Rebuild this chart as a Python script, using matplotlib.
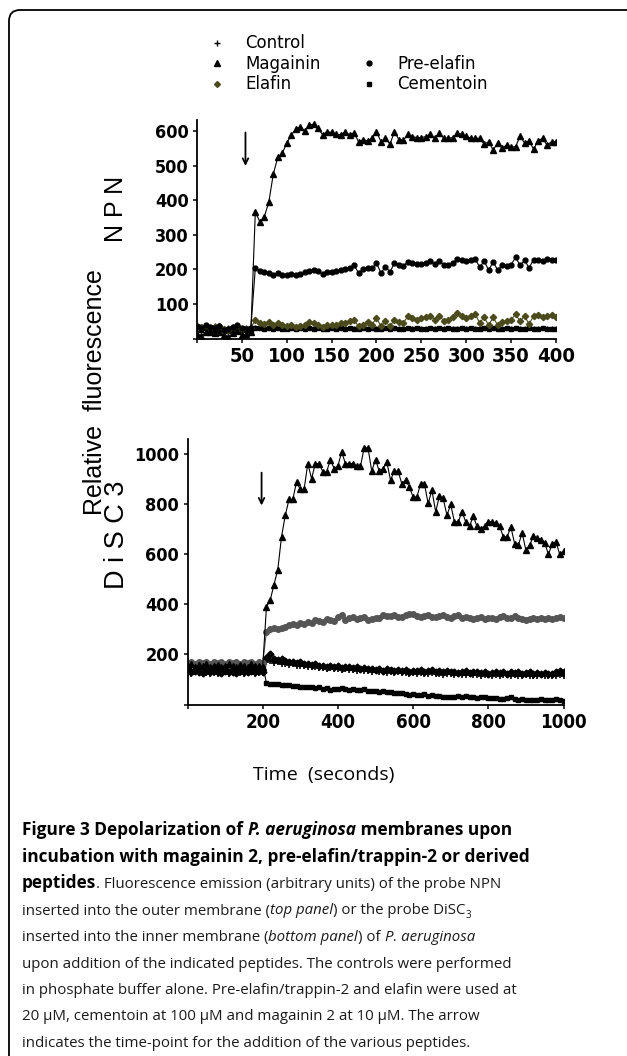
import numpy as np
import matplotlib
matplotlib.use('Agg')
import matplotlib.pyplot as plt
from matplotlib import font_manager
from matplotlib.font_manager import FontProperties
from matplotlib.lines import Line2D
from matplotlib.patches import FancyBboxPatch
from matplotlib.transforms import IdentityTransform

W, H = 627, 1056

names = set(f.name for f in font_manager.fontManager.ttflist)
capfont = 'Open Sans' if 'Open Sans' in names else 'DejaVu Sans'
labfont = 'Liberation Sans' if 'Liberation Sans' in names else 'DejaVu Sans'

def tick_font(size):
    if 'Liberation Sans Narrow' in names:
        return FontProperties(family='Liberation Sans Narrow', weight='bold', size=size * 1.15)
    cond = [f for f in font_manager.fontManager.ttflist
            if f.name == 'DejaVu Sans' and 'condensed' in str(f.stretch)]
    if cond:
        return FontProperties(family='DejaVu Sans', stretch='condensed', weight='bold', size=size)
    return FontProperties(family=labfont, weight='bold', size=size)

# ---- top panel (NPN), one reading every 5 s
t_top = np.arange(0, 401, 5)
npn_magainin = [12, 8, 18, 20, 15, 18, 10, 3, 16, 22, 10, 12, 20,
                367, 338, 353, 395, 476, 525, 537, 566, 590, 606,
                614, 601, 618, 621, 609, 590, 599, 597, 592, 590,
                599, 590, 596, 570, 576, 573, 580, 599, 570, 580,
                563, 599, 576, 575, 591, 585, 582, 582, 585, 591,
                580, 596, 580, 580, 582, 594, 592, 586, 580, 580,
                580, 563, 570, 546, 566, 551, 561, 554, 556, 586,
                566, 573, 548, 573, 580, 561, 570, 570]
npn_preelafin = [35, 30, 38, 32, 30, 36, 25, 28, 33, 38, 30, 28, 30,
                 205, 195, 192, 190, 185, 190, 185, 183, 188, 183,
                 188, 192, 196, 198, 195, 186, 192, 192, 195, 198,
                 200, 203, 212, 190, 200, 205, 203, 218, 190, 208,
                 193, 218, 212, 210, 222, 218, 216, 216, 220, 225,
                 215, 225, 213, 214, 218, 230, 226, 224, 226, 230,
                 207, 224, 198, 222, 198, 212, 210, 214, 235, 212,
                 226, 205, 228, 228, 224, 229, 228, 226]
npn_elafin = [30, 32, 35, 30, 33, 35, 28, 25, 30, 35, 28, 28, 30,
              55, 45, 42, 48, 40, 45, 38, 35, 38, 33,
              36, 40, 47, 45, 40, 33, 40, 38, 40, 44,
              46, 50, 53, 35, 40, 48, 40, 60, 35, 50,
              35, 55, 48, 45, 65, 60, 55, 58, 62, 65,
              55, 65, 52, 55, 62, 73, 65, 60, 65, 70,
              45, 62, 38, 62, 38, 48, 50, 55, 70, 50,
              65, 42, 65, 68, 62, 65, 68, 62]
npn_control = [38, 35, 40, 36, 38, 34, 30, 32, 35, 40, 30, 32, 35,
               34, 32, 31, 30, 32, 30, 31, 30, 29, 31,
               30, 31, 30, 29, 30, 31, 30, 30, 29, 30,
               31, 30, 30, 29, 30, 31, 30, 29, 30, 30,
               31, 30, 29, 30, 30, 31, 30, 29, 30, 30,
               30, 31, 30, 29, 30, 30, 31, 30, 30, 29,
               30, 31, 30, 29, 30, 30, 31, 30, 29, 30,
               30, 31, 30, 30, 29, 30, 30, 30]
npn_cementoin = [28, 25, 30, 28, 25, 28, 25, 22, 26, 30, 25, 24, 26,
                 30, 29, 28, 29, 28, 29, 28, 28, 29, 28,
                 29, 28, 29, 28, 29, 28, 28, 29, 28, 29,
                 28, 29, 28, 28, 29, 28, 29, 28, 28, 29,
                 28, 29, 28, 28, 29, 28, 29, 28, 28, 29,
                 28, 29, 28, 29, 28, 28, 29, 28, 29, 28,
                 28, 29, 28, 29, 28, 28, 29, 28, 29, 28,
                 28, 29, 28, 28, 29, 28, 28, 28]

# ---- bottom panel (DiSC3), one reading every 10 s
t_bot = np.arange(0, 1001, 10)
disc_magainin = [155, 160, 150, 158, 152, 160, 150, 155, 158, 150, 155,
                 160, 152, 150, 158, 155, 150, 160, 152, 155, 150,
                 389, 416, 478, 536, 668, 754, 817, 817, 887, 857,
                 857, 960, 900, 960, 960, 927, 927, 976, 940, 950,
                 1007, 960, 960, 960, 950, 950, 1023, 1023, 930, 976,
                 930, 940, 967, 894, 930, 930, 880, 894, 867, 827,
                 827, 880, 880, 801, 854, 768, 830, 821, 754, 797,
                 728, 728, 768, 728, 710, 750, 710, 701, 710, 728,
                 728, 724, 710, 668, 668, 708, 641, 635, 684, 615,
                 635, 671, 664, 657, 644, 598, 641, 648, 598, 612]
disc_preelafin = [165, 170, 162, 168, 165, 170, 163, 168, 165, 170, 162,
                  168, 165, 170, 163, 168, 165, 170, 162, 168, 165,
                  290, 300, 305, 302, 305, 310, 318, 322, 318, 325,
                  322, 330, 325, 335, 332, 330, 342, 335, 332, 350,
                  355, 335, 345, 348, 342, 345, 348, 338, 340, 345,
                  345, 358, 352, 352, 355, 348, 350, 355, 362, 362,
                  352, 348, 352, 355, 350, 348, 352, 355, 350, 345,
                  352, 355, 345, 350, 345, 342, 345, 348, 342, 345,
                  345, 342, 348, 352, 345, 345, 352, 345, 340, 338,
                  342, 345, 342, 345, 342, 345, 342, 345, 348, 343]
disc_elafin = [132, 128, 135, 130, 126, 132, 128, 134, 130, 127, 133,
               129, 131, 127, 134, 130, 128, 132, 129, 133, 130,
               185, 200, 180, 178, 182, 172, 168, 170, 165, 168,
               160, 162, 158, 160, 152, 155, 150, 155, 148, 152,
               145, 150, 148, 145, 150, 142, 145, 140, 142, 138,
               140, 135, 140, 138, 135, 138, 132, 136, 130, 134,
               132, 136, 130, 133, 138, 130, 134, 130, 132, 128,
               130, 125, 128, 132, 126, 130, 128, 125, 128, 122,
               125, 130, 125, 128, 122, 128, 125, 130, 122, 125,
               128, 122, 125, 120, 125, 122, 120, 128, 135, 130]
disc_control = [125, 122, 128, 124, 120, 126, 123, 127, 122, 125, 128,
                121, 126, 124, 127, 122, 125, 128, 123, 126, 124,
                170, 175, 165, 168, 160, 162, 158, 160, 155, 152,
                155, 150, 148, 150, 145, 146, 142, 145, 140, 142,
                138, 140, 136, 138, 135, 138, 132, 134, 130, 132,
                128, 130, 126, 128, 125, 128, 124, 126, 122, 125,
                122, 124, 120, 122, 125, 120, 122, 118, 120, 122,
                118, 120, 116, 118, 120, 116, 118, 115, 118, 116,
                115, 118, 114, 116, 118, 114, 116, 113, 115, 117,
                113, 115, 112, 116, 114, 112, 115, 113, 116, 114]
disc_cementoin = [160, 158, 162, 157, 161, 159, 163, 158, 160, 156, 161,
                  159, 162, 157, 160, 158, 161, 159, 157, 160, 158,
                  85, 82, 80, 80, 78, 76, 78, 72, 74, 70,
                  70, 68, 70, 66, 68, 62, 64, 58, 62, 60,
                  64, 60, 58, 62, 56, 58, 60, 55, 55, 52,
                  50, 52, 48, 50, 47, 45, 44, 40, 38, 40,
                  36, 38, 40, 34, 36, 32, 34, 30, 30, 28,
                  30, 32, 30, 32, 30, 28, 26, 28, 30, 26,
                  25, 24, 22, 22, 25, 28, 22, 18, 20, 18,
                  16, 18, 18, 20, 18, 16, 18, 20, 16, 12]

olive = '#4a4a1c'
grey = '#555555'

fig = plt.figure(figsize=(W / 100, H / 100), dpi=100)

# frame (only top and left edges visible)
frame = FancyBboxPatch((9, -40), 700, H - 10 + 40, boxstyle='round,pad=0,rounding_size=11',
                       transform=IdentityTransform(), facecolor='none', edgecolor='black', lw=1.3)
fig.patches.append(frame)

def style_axes(ax, xsize, ysize):
    for s in ['top', 'right']:
        ax.spines[s].set_visible(False)
    for s in ['left', 'bottom']:
        ax.spines[s].set_linewidth(1.3)
    ax.tick_params(direction='out', length=3, width=1.1, pad=3)
    for lab in ax.get_xticklabels():
        lab.set_fontproperties(tick_font(xsize))
    for lab in ax.get_yticklabels():
        lab.set_fontproperties(tick_font(ysize))

lw = 0.8
# top panel
ax1 = fig.add_axes([197 / W, 1 - 338.5 / H, 359 / W, 218.5 / H])
ax1.plot(t_top, npn_cementoin, color='black', lw=lw, marker='s', ms=2.5)
ax1.plot(t_top, npn_control, color='black', lw=lw, marker='+', ms=3)
ax1.plot(t_top, npn_elafin, color=olive, lw=lw, marker='D', ms=3.2)
ax1.plot(t_top, npn_preelafin, color='black', lw=lw, marker='o', ms=3.5)
ax1.plot(t_top, npn_magainin, color='black', lw=lw, marker='^', ms=4.2)
ax1.set_xlim(0, 400)
ax1.set_ylim(0, 633)
ax1.set_xticks(np.arange(0, 401, 50))
ax1.set_xticklabels([''] + [str(v) for v in range(50, 401, 50)])
ax1.set_yticks(np.arange(0, 601, 100))
ax1.set_yticklabels([''] + [str(v) for v in range(100, 601, 100)])
style_axes(ax1, 14.5, 13)
ax1.annotate('', xy=(54, 492), xytext=(54, 605),
             arrowprops=dict(arrowstyle='->', lw=1.3, color='black', mutation_scale=10))

# bottom panel
ax2 = fig.add_axes([187.5 / W, 1 - 704.5 / H, 376 / W, 265.5 / H])
ax2.plot(t_bot, disc_cementoin, color='black', lw=lw, marker='s', ms=3)
ax2.plot(t_bot, disc_control, color='black', lw=lw, marker='+', ms=4, mew=1.2)
ax2.plot(t_bot, disc_elafin, color='black', lw=lw, marker='D', ms=3.5)
ax2.plot(t_bot, disc_preelafin, color=grey, lw=lw, marker='o', ms=4)
ax2.plot(t_bot, disc_magainin, color='black', lw=lw, marker='^', ms=4.5)
ax2.set_xlim(0, 1000)
ax2.set_ylim(0, 1058)
ax2.set_xticks(np.arange(0, 1001, 200))
ax2.set_xticklabels([''] + [str(v) for v in range(200, 1001, 200)])
ax2.set_yticks(np.arange(0, 1001, 200))
ax2.set_yticklabels([''] + [str(v) for v in range(200, 1001, 200)])
style_axes(ax2, 13.5, 13)
ax2.annotate('', xy=(197, 782), xytext=(197, 935),
             arrowprops=dict(arrowstyle='->', lw=1.3, color='black', mutation_scale=10))

# axis labels
fig.text(116 / W, 1 - 209 / H, 'N P N', rotation=90, ha='center', va='center',
         fontsize=18, family=labfont)
fig.text(117 / W, 1 - 535 / H, 'D i S C 3', rotation=90, ha='center', va='center',
         fontsize=19.5, family=labfont)
fig.text(95 / W, 1 - 392 / H, 'Relative  fluorescence', rotation=90, ha='center', va='center',
         fontsize=18, family=labfont)
fig.text(324 / W, 1 - 775 / H, 'Time  (seconds)', ha='center', va='center',
         fontsize=14, family=capfont, stretch='normal')

# legend
handles = [Line2D([], [], ls='none', marker='+', color='black', ms=4),
           Line2D([], [], ls='none', marker='^', color='black', ms=4),
           Line2D([], [], ls='none', marker='D', color=olive, ms=3),
           Line2D([], [], ls='none'),
           Line2D([], [], ls='none', marker='o', color='black', ms=3.5),
           Line2D([], [], ls='none', marker='s', color='black', ms=3)]
labels = ['Control', 'Magainin', 'Elafin', '', 'Pre-elafin', 'Cementoin']
fig.legend(handles, labels, ncol=2, loc='upper left', bbox_to_anchor=(200 / W, 1 - 26 / H),
           frameon=False, fontsize=12, handlelength=1.0, handletextpad=1.2,
           columnspacing=2.4, labelspacing=0.15, borderpad=0)

# caption
fig.canvas.draw()
renderer = fig.canvas.get_renderer()
B, N, I, BI, S = 'b', 'n', 'i', 'bi', 's'
caption = [
    [('Figure 3 Depolarization of ', B), ('P. aeruginosa', BI), (' membranes upon', B)],
    [('incubation with magainin 2, pre-elafin/trappin-2 or derived', B)],
    [('peptides', B), ('. Fluorescence emission (arbitrary units) of the probe NPN', N)],
    [('inserted into the outer membrane (', N), ('top panel', I), (') or the probe DiSC', N), ('3', S)],
    [('inserted into the inner membrane (', N), ('bottom panel', I), (') of ', N), ('P. aeruginosa', I)],
    [('upon addition of the indicated peptides. The controls were performed', N)],
    [('in phosphate buffer alone. Pre-elafin/trappin-2 and elafin were used at', N)],
    [('20 \u00b5M, cementoin at 100 \u00b5M and magainin 2 at 10 \u00b5M. The arrow', N)],
    [('indicates the time-point for the addition of the various peptides.', N)],
]
fs = 10.8
fsb = 12.4
y0 = 835
for k, line in enumerate(caption):
    x = 22
    y = y0 + k * 26.5
    for txt, kind in line:
        kw = dict(family=capfont, fontsize=fs, color='#1a1a1a', va='baseline', ha='left',
                  stretch='normal')
        yy = y
        if kind in (B, BI):
            kw['weight'] = 'bold'
            kw['color'] = 'black'
            kw['fontsize'] = fsb
        if kind in (I, BI):
            kw['style'] = 'italic'
        if kind == S:
            kw['fontsize'] = fs * 0.65
            yy = y + 4
        t = fig.text(x / W, 1 - yy / H, txt, **kw)
        x += t.get_window_extent(renderer).width

fig.savefig('out.png', dpi=100)
